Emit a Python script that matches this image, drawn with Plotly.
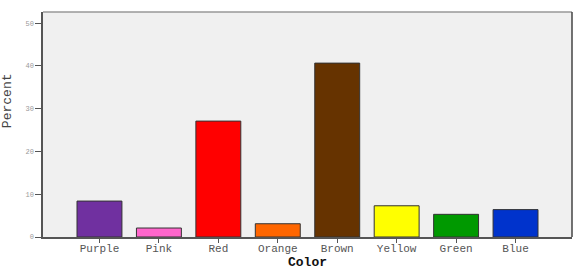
import plotly.graph_objects as go

categories = ["Purple", "Pink", "Red", "Orange", "Brown", "Yellow", "Green", "Blue"]
percent = [8.4, 2.1, 27.1, 3.1, 40.65, 7.3, 5.3, 6.4]
bar_colors = ["#7030a0", "#ff66cc", "#ff0000", "#ff6600", "#663300", "#ffff00", "#009900", "#0033cc"]
y_ticks = [0, 10, 20, 30, 40, 50]

fig = go.Figure(go.Bar(
    x=list(range(len(categories))), y=percent,
    marker=dict(color=bar_colors, line=dict(color="#333333", width=1)),
    width=0.756,
))

mono = "Liberation Mono, Courier New, monospace"
fig.update_layout(
    width=578, height=272,
    margin=dict(l=43, r=6, t=12, b=35),
    paper_bgcolor="white", plot_bgcolor="#f0f0f0",
    showlegend=False,
    xaxis=dict(
        range=[-0.95, 7.95], tickmode="array",
        tickvals=list(range(len(categories))), ticktext=categories,
        showgrid=False, zeroline=False, automargin=False,
        showline=True, linecolor="#555555", linewidth=1.5,
        ticks="outside", ticklen=4, tickcolor="#555555",
        ticklabelstandoff=-4,
        tickfont=dict(family=mono, size=11, color="#555555"),
        title=dict(text="<b>Color</b>", font=dict(family=mono, size=13, color="#111111"), standoff=2),
    ),
    yaxis=dict(
        range=[0, 52.6], tickvals=y_ticks,
        showgrid=False, zeroline=False, automargin=False,
        showline=True, linecolor="#555555", linewidth=1.5,
        ticks="outside", ticklen=6, tickcolor="#555555",
        tickfont=dict(family=mono, size=7, color="#999999"),
    ),
    annotations=[
        dict(text="Percent", xref="paper", yref="paper", x=-0.068, y=0.604,
             xanchor="center", yanchor="middle", textangle=-90, showarrow=False,
             font=dict(family=mono, size=13, color="#444444")),
    ],
    shapes=[
        dict(type="line", xref="paper", yref="paper", x0=0, x1=1, y0=1, y1=1,
             line=dict(color="#999999", width=1.5)),
        dict(type="line", xref="paper", yref="paper", x0=1, x1=1, y0=0, y1=1,
             line=dict(color="#444444", width=1.5)),
    ],
)

fig.write_html("out.html")
